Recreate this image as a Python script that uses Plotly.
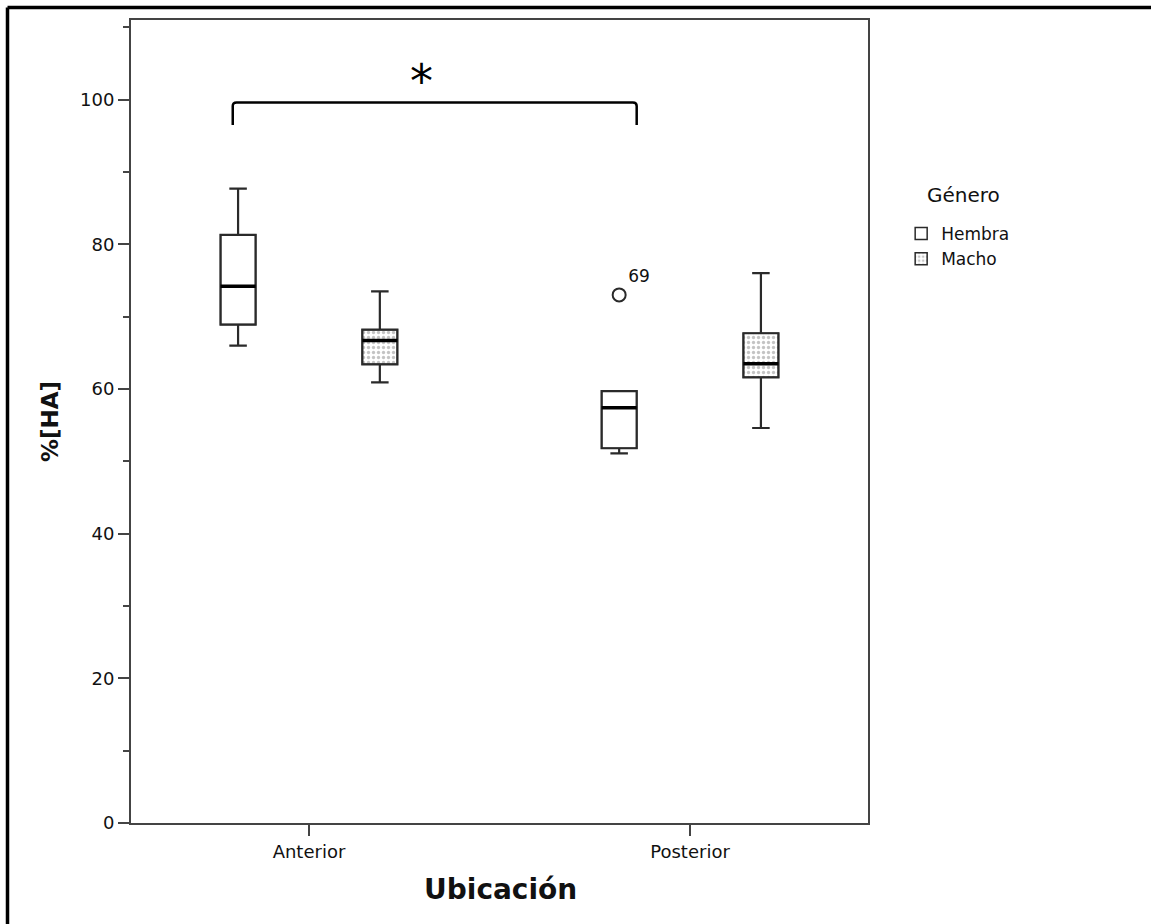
import plotly.graph_objects as go

# ---- data ----
categories = ["Anterior", "Posterior"]
cat_pos = [0, 1]

hembra_lower = [66.0, 51.1]
hembra_q1 = [68.9, 51.8]
hembra_median = [74.2, 57.4]
hembra_q3 = [81.3, 59.7]
hembra_upper = [87.7, 59.7]

macho_lower = [60.9, 54.6]
macho_q1 = [63.4, 61.6]
macho_median = [66.7, 63.5]
macho_q3 = [68.2, 67.7]
macho_upper = [73.5, 76.0]

outlier_value = [73.0]
outlier_label = ["69"]

y_ticks = [0, 20, 40, 60, 80, 100]
y_minor = [10, 30, 50, 70, 90, 110]

# ---- style constants ----
FONT = "DejaVu Sans"
SLOT = 0.186      # box centre offset from its category (fraction of category step)
BOX_W = 0.092     # box width (fraction of category step)
LINE = "#2a2a2a"

h_pos = [p - SLOT for p in cat_pos]
m_pos = [p + SLOT for p in cat_pos]

fig = go.Figure()

# fills / legend swatches (drawn beneath the box outlines)
fig.add_trace(go.Bar(
    x=h_pos, base=hembra_q1,
    y=[b - a for a, b in zip(hembra_q1, hembra_q3)],
    width=BOX_W,
    marker=dict(color="white", line=dict(color=LINE, width=1.5)),
    name="Hembra", showlegend=True, hoverinfo="skip",
))
fig.add_trace(go.Bar(
    x=m_pos, base=macho_q1,
    y=[b - a for a, b in zip(macho_q1, macho_q3)],
    width=BOX_W,
    marker=dict(color="white", line=dict(color=LINE, width=1.5),
                pattern=dict(shape=".", fgcolor="#8a8a8a", bgcolor="white",
                             size=5, solidity=0.35)),
    name="Macho", showlegend=True, hoverinfo="skip",
))

fig.add_trace(go.Box(
    x=h_pos, q1=hembra_q1, median=hembra_median, q3=hembra_q3,
    lowerfence=hembra_lower, upperfence=hembra_upper,
    width=BOX_W, name="Hembra", showlegend=False,
    fillcolor="rgba(255,255,255,0)", line=dict(color=LINE, width=2.2),
    whiskerwidth=0.5, hoverinfo="skip",
))
fig.add_trace(go.Box(
    x=m_pos, q1=macho_q1, median=macho_median, q3=macho_q3,
    lowerfence=macho_lower, upperfence=macho_upper,
    width=BOX_W, name="Macho", showlegend=False,
    fillcolor="rgba(255,255,255,0)", line=dict(color=LINE, width=2.2),
    whiskerwidth=0.5, hoverinfo="skip",
))

# heavier median lines
med_x, med_y = [], []
for pos, med in zip(h_pos + m_pos, hembra_median + macho_median):
    med_x += [pos - BOX_W / 2, pos + BOX_W / 2, None]
    med_y += [med, med, None]
fig.add_trace(go.Scatter(x=med_x, y=med_y, mode="lines",
                         line=dict(color="black", width=3.5),
                         showlegend=False, hoverinfo="skip"))

# outlier of Hembra / Posterior
fig.add_trace(go.Scatter(
    x=[h_pos[1]], y=outlier_value,
    mode="markers+text", text=outlier_label,
    textposition="top right",
    textfont=dict(family=FONT, size=17, color="#111"),
    marker=dict(symbol="circle-open", size=13, color=LINE, line=dict(width=2)),
    showlegend=False, hoverinfo="skip",
))

# significance bracket
bx0 = h_pos[0] - 0.014
bx1 = h_pos[1] + BOX_W / 2
by0, by1 = 96.5, 99.6
fig.add_shape(type="path", xref="x", yref="y",
              path=(f"M {bx0},{by0} L {bx0},{by1-0.5} Q {bx0},{by1} {bx0+0.01},{by1} "
                    f"L {bx1-0.01},{by1} Q {bx1},{by1} {bx1},{by1-0.5} L {bx1},{by0}"),
              line=dict(color="black", width=2.5))
fig.add_annotation(x=(bx0 + bx1) / 2 - 0.035, y=by1 + 2.9, xref="x", yref="y",
                   text="*", showarrow=False,
                   font=dict(family=FONT, size=46, color="black"),
                   yanchor="middle")

# outer frame (top and left edges)
fig.add_shape(type="line", xref="paper", yref="paper",
              x0=(7.5 - 131) / 737, x1=(1151 - 131) / 737,
              y0=(823 - 7.5) / 803, y1=(823 - 7.5) / 803,
              line=dict(color="black", width=3.5))
fig.add_shape(type="line", xref="paper", yref="paper",
              x0=(7.5 - 131) / 737, x1=(7.5 - 131) / 737,
              y0=(823 - 7.5) / 803, y1=(823 - 930) / 803,
              line=dict(color="black", width=3.5))

# axis titles
fig.add_annotation(text="<b>%[HA]</b>", xref="paper", yref="paper",
                   x=(50 - 131) / 737, y=(823 - 422) / 803, textangle=-90,
                   showarrow=False, xanchor="center", yanchor="middle",
                   font=dict(family=FONT, size=23, color="#111"))
fig.add_annotation(text="<b>Ubicación</b>", xref="paper", yref="paper",
                   x=(500 - 131) / 737, y=(823 - 890) / 803,
                   showarrow=False, xanchor="center", yanchor="middle",
                   font=dict(family=FONT, size=28, color="#111"))
# legend title
fig.add_annotation(text="Género", xref="paper", yref="paper",
                   x=(963 - 131) / 737, y=(823 - 195) / 803,
                   showarrow=False, xanchor="center", yanchor="middle",
                   font=dict(family=FONT, size=20, color="#111"))

fig.update_layout(
    width=1151, height=924,
    margin=dict(l=131, r=283, t=20, b=101),
    paper_bgcolor="white", plot_bgcolor="white",
    boxmode="overlay", barmode="overlay",
    font=dict(family=FONT, color="#111"),
    legend=dict(font=dict(family=FONT, size=17),
                x=1.045, y=(823 - 216) / 803, xanchor="left", yanchor="top",
                bgcolor="rgba(0,0,0,0)", tracegroupgap=0,
                itemwidth=30),
)
fig.update_xaxes(
    range=[-0.467, 1.467], tickmode="array", tickvals=cat_pos, ticktext=categories,
    showline=True, linecolor="#444", linewidth=2, mirror=True,
    ticks="outside", ticklen=11, tickwidth=2, tickcolor="#444",
    showgrid=False, zeroline=False,
    tickfont=dict(family=FONT, size=18, color="#111"),
)
fig.update_yaxes(
    range=[0, 111], tickmode="array", tickvals=y_ticks,
    showline=True, linecolor="#444", linewidth=2, mirror=True,
    ticks="outside", ticklen=11, tickwidth=2, tickcolor="#444",
    minor=dict(tickmode="array", tickvals=y_minor, ticks="outside",
               ticklen=6, tickwidth=2, tickcolor="#444", showgrid=False),
    showgrid=False, zeroline=False,
    tickfont=dict(family=FONT, size=18, color="#111"),
)

fig.write_html("out.html")
